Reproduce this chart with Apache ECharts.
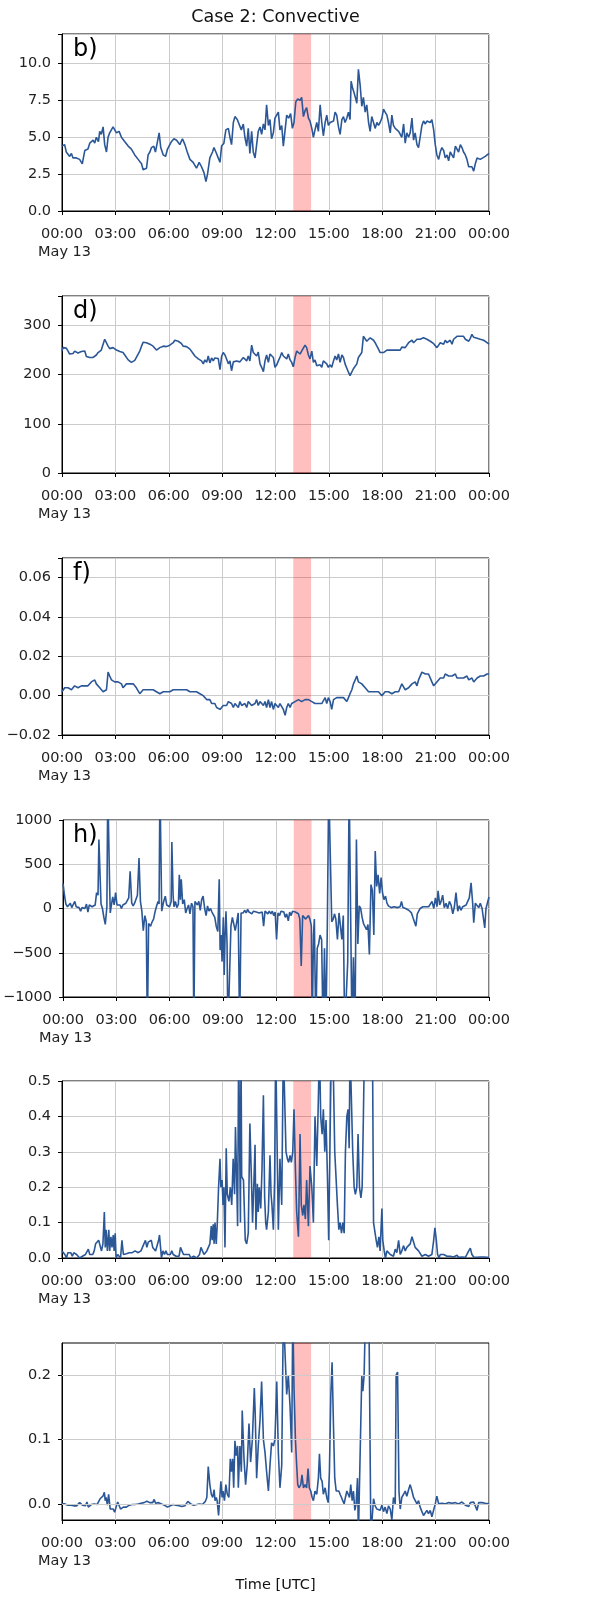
<!DOCTYPE html>
<html>
<head>
<meta charset="utf-8">
<script src="https://cdn.jsdelivr.net/npm/echarts/dist/echarts.min.js"></script>
<style>
html,body{margin:0;padding:0;background:#fff;}
#chart{width:597px;height:1600px;}
</style>
</head>
<body>
<div id="chart"></div>
<script>
// ---- Data: [time in hours UTC on May 13, value] ----
const titleText = 'Case 2: Convective';
const xAxisTitle = 'Time [UTC]';
const dateLabel = 'May 13';
const xTickHours = [0, 3, 6, 9, 12, 15, 18, 21, 24];
const highlightSpan = [13, 14];
const panelLetters = ['b)', 'd)', 'f)', 'h)', '', ''];

const seriesB = [[0,4.4],[0.15,4.5],[0.24,4.0],[0.43,3.7],[0.53,3.9],[0.62,3.6],[0.81,3.6],[0.99,3.5],[1.14,3.2],[1.28,4.1],[1.46,4.2],[1.56,4.6],[1.75,4.8],[1.84,4.6],[1.93,5.0],[2.05,4.7],[2.12,5.4],[2.21,5.2],[2.31,5.7],[2.40,4.5],[2.50,4.0],[2.59,5.0],[2.68,5.3],[2.87,5.7],[2.96,5.8],[3.06,5.3],[3.21,5.4],[3.34,5.0],[3.53,4.7],[3.72,4.4],[3.90,4.2],[4.09,3.8],[4.28,3.5],[4.47,3.2],[4.56,2.8],[4.65,2.8],[4.75,2.9],[4.84,3.8],[4.94,4.0],[5.03,4.3],[5.16,4.4],[5.25,4.0],[5.35,4.6],[5.46,5.3],[5.55,4.3],[5.69,3.8],[5.82,3.7],[5.93,4.2],[6.06,4.5],[6.15,4.7],[6.29,4.9],[6.44,4.8],[6.53,4.9],[6.62,4.5],[6.77,4.9],[6.91,4.5],[7.04,4.0],[7.19,3.5],[7.37,3.3],[7.56,2.9],[7.71,3.3],[7.84,3.0],[7.98,2.6],[8.09,2.0],[8.18,2.5],[8.31,3.6],[8.46,4.0],[8.54,4.3],[8.65,4.0],[8.78,3.6],[8.88,3.3],[8.97,4.4],[9.10,4.6],[9.21,5.5],[9.35,5.6],[9.44,5.0],[9.53,4.5],[9.63,6.0],[9.72,6.4],[9.85,6.2],[9.96,6.1],[10.08,5.5],[10.19,5.9],[10.28,5.0],[10.38,4.4],[10.47,5.6],[10.56,3.9],[10.66,5.4],[10.75,4.0],[10.85,3.6],[10.94,4.5],[11.03,5.4],[11.13,5.7],[11.22,5.2],[11.32,5.9],[11.41,5.5],[11.50,7.2],[11.60,5.8],[11.69,6.2],[11.78,4.9],[11.88,5.3],[11.97,6.3],[12.07,6.4],[12.16,6.7],[12.25,5.5],[12.35,5.8],[12.44,4.4],[12.54,5.5],[12.63,6.5],[12.74,6.3],[12.85,6.6],[12.95,5.6],[13.04,6.0],[13.14,7.4],[13.25,7.6],[13.38,7.5],[13.47,7.7],[13.57,6.4],[13.66,6.8],[13.75,7.0],[13.85,6.3],[13.94,6.1],[14.04,5.6],[14.13,5.0],[14.22,5.5],[14.32,6.0],[14.41,5.4],[14.51,7.2],[14.60,6.0],[14.69,5.1],[14.79,6.0],[14.88,6.5],[14.97,5.8],[15.07,6.0],[15.26,6.1],[15.35,6.7],[15.44,6.5],[15.54,5.7],[15.63,5.2],[15.73,6.2],[15.82,6.4],[15.91,6.0],[16.01,6.3],[16.10,6.7],[16.19,6.2],[16.25,8.8],[16.34,8.3],[16.42,8.0],[16.51,7.6],[16.57,7.3],[16.66,9.6],[16.76,8.5],[16.85,7.1],[16.94,7.7],[17.04,6.7],[17.13,7.2],[17.23,6.0],[17.32,5.4],[17.41,6.4],[17.51,6.0],[17.60,5.6],[17.70,6.0],[17.79,5.8],[17.88,6.0],[17.98,6.3],[18.07,6.9],[18.16,6.7],[18.26,6.5],[18.35,6.0],[18.45,5.3],[18.54,6.5],[18.63,5.8],[18.73,5.6],[18.82,5.6],[18.92,5.4],[19.01,5.3],[19.10,5.0],[19.20,5.9],[19.29,4.6],[19.38,5.3],[19.48,5.0],[19.57,5.3],[19.67,6.3],[19.76,4.8],[19.85,5.3],[19.95,4.5],[20.04,4.3],[20.13,5.0],[20.23,5.8],[20.32,6.1],[20.42,5.9],[20.51,6.1],[20.70,6.0],[20.79,6.2],[20.89,5.5],[20.98,4.5],[21.07,3.8],[21.17,3.5],[21.26,4.0],[21.35,4.3],[21.45,4.1],[21.54,3.6],[21.64,3.8],[21.73,3.4],[21.82,4.0],[21.92,3.9],[22.01,3.6],[22.11,4.4],[22.20,4.5],[22.29,4.0],[22.39,4.5],[22.48,4.3],[22.57,4.0],[22.67,3.8],[22.76,3.5],[22.86,3.0],[22.95,2.9],[23.04,3.0],[23.14,2.7],[23.23,3.2],[23.33,3.6],[23.51,3.5],[23.61,3.6],[23.79,3.7],[24,3.9]];

const seriesD = [[0,248],[0.06,255],[0.15,252],[0.24,254],[0.34,248],[0.43,242],[0.53,245],[0.62,243],[0.71,248],[0.81,250],[0.90,244],[0.99,248],[1.09,247],[1.18,249],[1.28,248],[1.37,237],[1.46,238],[1.56,235],[1.65,236],[1.75,235],[1.84,234],[1.93,240],[2.03,245],[2.12,244],[2.21,250],[2.31,262],[2.40,272],[2.50,268],[2.59,258],[2.68,253],[2.78,256],[2.87,255],[2.96,253],[3.06,250],[3.15,248],[3.25,247],[3.34,246],[3.43,245],[3.53,240],[3.62,238],[3.72,230],[3.81,226],[3.90,225],[4.00,225],[4.09,229],[4.18,235],[4.28,242],[4.37,248],[4.47,258],[4.56,266],[4.65,270],[4.75,265],[4.84,268],[4.94,262],[5.03,260],[5.12,258],[5.22,255],[5.31,250],[5.40,248],[5.50,255],[5.59,258],[5.69,258],[5.78,260],[5.87,257],[5.97,258],[6.06,260],[6.15,261],[6.25,265],[6.34,270],[6.44,272],[6.53,268],[6.62,265],[6.72,263],[6.81,258],[6.91,260],[7.00,257],[7.09,256],[7.19,252],[7.28,248],[7.37,243],[7.47,238],[7.56,236],[7.66,232],[7.75,235],[7.84,228],[7.94,222],[8.03,230],[8.13,225],[8.22,238],[8.31,224],[8.41,234],[8.50,228],[8.59,234],[8.69,230],[8.78,233],[8.88,210],[8.97,237],[9.06,245],[9.16,240],[9.25,232],[9.35,222],[9.44,228],[9.53,208],[9.63,226],[9.72,222],[9.81,228],[9.91,224],[10.00,226],[10.10,230],[10.19,235],[10.28,232],[10.38,228],[10.47,238],[10.56,228],[10.66,260],[10.75,245],[10.85,242],[10.94,238],[11.03,246],[11.13,222],[11.22,215],[11.32,206],[11.41,228],[11.50,240],[11.60,225],[11.69,242],[11.78,240],[11.88,235],[11.97,215],[12.07,220],[12.16,228],[12.25,235],[12.35,245],[12.44,238],[12.54,240],[12.63,232],[12.72,242],[12.82,230],[12.91,225],[13.00,216],[13.10,235],[13.19,248],[13.29,245],[13.38,242],[13.47,248],[13.57,252],[13.66,260],[13.75,255],[13.85,240],[13.94,232],[14.04,248],[14.13,225],[14.22,230],[14.32,218],[14.41,215],[14.51,220],[14.60,215],[14.69,228],[14.79,230],[14.88,222],[14.97,215],[15.07,220],[15.16,215],[15.26,228],[15.35,238],[15.44,230],[15.54,242],[15.63,225],[15.73,240],[15.82,235],[15.91,222],[16.01,218],[16.10,205],[16.19,198],[16.29,200],[16.38,212],[16.48,215],[16.57,222],[16.66,235],[16.76,232],[16.85,245],[16.94,278],[17.04,275],[17.13,268],[17.23,272],[17.32,275],[17.41,272],[17.51,270],[17.60,265],[17.70,258],[17.79,252],[17.88,245],[17.98,242],[18.07,245],[18.16,248],[18.26,250],[18.35,248],[18.45,250],[18.54,248],[18.63,250],[18.73,250],[18.82,250],[18.92,252],[19.01,250],[19.10,256],[19.20,258],[19.29,255],[19.38,258],[19.48,265],[19.57,262],[19.67,270],[19.76,265],[19.85,268],[19.95,272],[20.04,274],[20.13,272],[20.23,273],[20.32,275],[20.42,272],[20.51,272],[20.60,270],[20.70,268],[20.79,265],[20.89,263],[20.98,262],[21.07,255],[21.17,260],[21.26,265],[21.35,268],[21.45,262],[21.54,270],[21.64,265],[21.73,268],[21.82,270],[21.92,262],[22.01,272],[22.11,276],[22.20,278],[22.29,276],[22.39,278],[22.48,280],[22.57,278],[22.67,272],[22.76,270],[22.86,268],[22.95,274],[23.04,282],[23.14,276],[23.23,272],[23.33,274],[23.42,270],[23.51,272],[23.61,268],[23.70,270],[23.79,266],[23.89,265],[24,262]];

const seriesF = [[0,0.002],[0.06,0.003],[0.15,0.004],[0.24,0.003],[0.34,0.004],[0.43,0.004],[0.53,0.003],[0.62,0.004],[0.71,0.005],[0.81,0.005],[0.90,0.004],[0.99,0.005],[1.09,0.005],[1.18,0.004],[1.28,0.005],[1.37,0.005],[1.46,0.005],[1.56,0.006],[1.65,0.007],[1.75,0.008],[1.84,0.008],[1.93,0.006],[2.03,0.005],[2.12,0.004],[2.21,0.003],[2.31,0.002],[2.40,0.001],[2.50,0.003],[2.59,0.012],[2.68,0.010],[2.78,0.008],[2.87,0.009],[2.96,0.007],[3.06,0.008],[3.15,0.007],[3.25,0.006],[3.34,0.006],[3.43,0.004],[3.53,0.005],[3.62,0.006],[3.72,0.005],[3.81,0.006],[3.90,0.006],[4.00,0.006],[4.09,0.005],[4.18,0.004],[4.28,0.003],[4.37,0.001],[4.47,0.002],[4.56,0.003],[4.65,0.003],[4.75,0.003],[4.84,0.003],[4.94,0.003],[5.03,0.003],[5.12,0.003],[5.22,0.003],[5.31,0.002],[5.40,0.002],[5.50,0.001],[5.59,0.002],[5.69,0.002],[5.78,0.002],[5.87,0.002],[5.97,0.003],[6.06,0.002],[6.15,0.002],[6.25,0.003],[6.34,0.003],[6.44,0.003],[6.53,0.003],[6.62,0.003],[6.72,0.003],[6.81,0.003],[6.91,0.003],[7.00,0.003],[7.09,0.002],[7.19,0.002],[7.28,0.002],[7.37,0.002],[7.47,0.002],[7.56,0.002],[7.66,0.002],[7.75,0.001],[7.84,0.002],[7.94,0.000],[8.03,-0.001],[8.13,-0.002],[8.22,-0.003],[8.31,-0.002],[8.41,-0.004],[8.50,-0.005],[8.59,-0.004],[8.69,-0.006],[8.78,-0.005],[8.88,-0.007],[8.97,-0.006],[9.06,-0.005],[9.16,-0.004],[9.25,-0.005],[9.35,-0.003],[9.44,-0.004],[9.53,-0.004],[9.63,-0.006],[9.72,-0.004],[9.81,-0.005],[9.91,-0.006],[10.00,-0.003],[10.10,-0.005],[10.19,-0.004],[10.28,-0.004],[10.38,-0.006],[10.47,-0.003],[10.56,-0.004],[10.66,-0.005],[10.75,-0.005],[10.85,-0.004],[10.94,-0.002],[11.03,-0.005],[11.13,-0.003],[11.22,-0.004],[11.32,-0.005],[11.41,-0.003],[11.50,-0.006],[11.60,-0.002],[11.69,-0.006],[11.78,-0.003],[11.88,-0.007],[11.97,-0.004],[12.07,-0.003],[12.16,-0.006],[12.25,-0.004],[12.35,-0.005],[12.44,-0.007],[12.54,-0.010],[12.63,-0.006],[12.72,-0.004],[12.82,-0.006],[12.91,-0.004],[13.00,-0.005],[13.10,-0.003],[13.19,-0.003],[13.29,-0.002],[13.38,-0.001],[13.47,-0.003],[13.57,-0.003],[13.66,-0.002],[13.75,-0.003],[13.85,-0.002],[13.94,-0.001],[14.04,-0.003],[14.13,-0.003],[14.22,-0.004],[14.32,-0.003],[14.41,-0.004],[14.51,-0.005],[14.60,-0.004],[14.69,-0.003],[14.79,-0.001],[14.88,-0.004],[14.97,-0.001],[15.07,-0.003],[15.16,-0.007],[15.26,-0.002],[15.35,-0.001],[15.44,-0.001],[15.54,-0.002],[15.63,-0.001],[15.73,0.000],[15.82,-0.001],[15.91,-0.001],[16.01,-0.003],[16.10,-0.001],[16.19,0.001],[16.29,0.003],[16.38,0.006],[16.48,0.008],[16.57,0.010],[16.66,0.007],[16.76,0.007],[16.85,0.006],[16.94,0.006],[17.04,0.004],[17.13,0.003],[17.23,0.002],[17.32,0.002],[17.41,0.002],[17.51,0.002],[17.60,0.002],[17.70,0.003],[17.79,0.002],[17.88,0.001],[17.98,0.000],[18.07,0.001],[18.16,0.002],[18.26,0.001],[18.35,0.002],[18.45,0.001],[18.54,0.001],[18.63,0.001],[18.73,0.002],[18.82,0.003],[18.92,0.002],[19.01,0.004],[19.10,0.006],[19.20,0.005],[19.29,0.003],[19.38,0.003],[19.48,0.004],[19.57,0.003],[19.67,0.006],[19.76,0.005],[19.85,0.007],[19.95,0.005],[20.04,0.008],[20.13,0.007],[20.23,0.012],[20.32,0.012],[20.42,0.011],[20.51,0.012],[20.60,0.011],[20.70,0.011],[20.79,0.007],[20.89,0.005],[20.98,0.006],[21.07,0.007],[21.17,0.008],[21.26,0.009],[21.35,0.010],[21.45,0.009],[21.54,0.011],[21.64,0.010],[21.73,0.010],[21.82,0.011],[21.92,0.010],[22.01,0.010],[22.11,0.011],[22.20,0.009],[22.29,0.010],[22.39,0.009],[22.48,0.010],[22.57,0.009],[22.67,0.009],[22.76,0.010],[22.86,0.008],[22.95,0.009],[23.04,0.009],[23.14,0.007],[23.23,0.008],[23.33,0.009],[23.42,0.009],[23.51,0.010],[23.61,0.010],[23.70,0.010],[23.79,0.011],[23.89,0.011],[24,0.011]];

const seriesH = [[0,280],[0.08,150],[0.16,50],[0.25,20],[0.33,20],[0.41,60],[0.49,10],[0.58,30],[0.66,80],[0.74,20],[0.82,40],[0.9,10],[0.99,-30],[1.07,10],[1.15,20],[1.23,0],[1.32,50],[1.4,-40],[1.48,40],[1.56,30],[1.64,20],[1.73,40],[1.81,40],[1.89,180],[1.97,150],[2.02,780],[2.09,350],[2.14,50],[2.22,0],[2.3,-100],[2.38,-180],[2.47,20],[2.52,1400],[2.57,1400],[2.62,300],[2.66,-50],[2.71,20],[2.8,130],[2.88,40],[2.96,180],[3.04,40],[3.13,20],[3.21,40],[3.29,0],[3.37,40],[3.45,20],[3.54,60],[3.62,40],[3.7,120],[3.78,420],[3.87,60],[3.95,30],[4.03,60],[4.11,60],[4.19,150],[4.28,570],[4.36,80],[4.44,-30],[4.52,-250],[4.61,-80],[4.69,-150],[4.75,-1400],[4.82,-170],[4.93,-200],[5.02,-150],[5.1,-120],[5.18,-40],[5.26,20],[5.35,80],[5.41,50],[5.46,1400],[5.51,1400],[5.56,-30],[5.67,80],[5.76,140],[5.84,40],[5.92,20],[6.0,20],[6.09,80],[6.13,750],[6.2,150],[6.25,20],[6.33,80],[6.41,10],[6.5,50],[6.55,380],[6.61,100],[6.66,330],[6.74,50],[6.83,100],[6.91,-50],[6.99,0],[7.07,40],[7.15,-60],[7.24,60],[7.32,20],[7.37,-1400],[7.43,80],[7.48,60],[7.57,40],[7.65,80],[7.73,-20],[7.81,100],[7.89,140],[7.98,0],[8.06,-80],[8.14,30],[8.22,-30],[8.31,0],[8.39,-40],[8.47,-60],[8.55,-100],[8.63,-200],[8.72,-260],[8.8,330],[8.85,-470],[8.91,-300],[8.96,-600],[9.03,-100],[9.08,-750],[9.13,-300],[9.18,-30],[9.24,-400],[9.29,-1400],[9.38,-1400],[9.46,-200],[9.54,-100],[9.62,-80],[9.7,-250],[9.79,-150],[9.87,-50],[9.95,-1400],[10.03,-50],[10.15,-50],[10.24,-20],[10.32,-50],[10.4,-10],[10.48,-40],[10.56,-30],[10.64,-60],[10.73,-30],[10.81,-50],[10.89,-40],[10.97,-30],[11.05,-50],[11.13,-30],[11.22,-40],[11.3,-200],[11.38,-30],[11.46,-20],[11.54,-60],[11.62,-30],[11.71,-60],[11.79,-30],[11.87,-80],[11.95,-40],[12.03,-350],[12.11,-50],[12.2,-80],[12.28,-30],[12.36,-50],[12.44,-40],[12.52,-100],[12.6,-60],[12.69,-140],[12.77,-40],[12.85,-80],[12.93,-30],[13.01,-40],[13.09,-40],[13.18,-30],[13.26,-60],[13.34,-120],[13.42,-650],[13.5,-80],[13.58,-60],[13.67,-120],[13.75,-100],[13.83,-80],[13.91,-120],[13.99,-200],[14.04,-1400],[14.11,-300],[14.16,-120],[14.24,-1400],[14.32,-450],[14.4,-400],[14.48,-300],[14.57,-350],[14.65,-1400],[14.73,-450],[14.81,-1400],[14.89,-200],[14.97,1400],[15.06,1400],[15.14,-150],[15.22,-120],[15.3,-60],[15.37,-120],[15.46,-350],[15.55,-50],[15.63,-70],[15.71,-350],[15.79,-80],[15.87,-1400],[15.95,-1400],[16.04,-600],[16.12,1400],[16.2,1400],[16.28,-1400],[16.36,-550],[16.45,-1400],[16.53,780],[16.61,-400],[16.69,30],[16.77,0],[16.85,-100],[16.93,-170],[17.02,-150],[17.1,-240],[17.18,-180],[17.26,-520],[17.35,270],[17.43,200],[17.51,-300],[17.59,650],[17.67,250],[17.75,380],[17.84,170],[17.92,350],[18.0,180],[18.08,100],[18.17,140],[18.25,60],[18.33,30],[18.41,40],[18.49,10],[18.58,5],[18.66,20],[18.74,0],[18.82,10],[18.91,20],[18.99,20],[19.07,80],[19.15,10],[19.23,0],[19.3,0],[19.39,-10],[19.48,-20],[19.55,-10],[19.63,-50],[19.71,-100],[19.8,-120],[19.88,-200],[19.96,-60],[20.04,-30],[20.12,0],[20.2,20],[20.28,20],[20.45,20],[20.6,20],[20.7,20],[20.79,80],[20.89,0],[20.98,120],[21.07,20],[21.13,200],[21.22,40],[21.3,80],[21.39,150],[21.48,10],[21.58,60],[21.67,0],[21.77,80],[21.86,40],[21.96,-60],[22.05,20],[22.14,180],[22.24,-30],[22.33,30],[22.42,-20],[22.52,20],[22.61,20],[22.71,40],[22.8,80],[22.89,120],[22.99,290],[23.08,60],[23.14,-160],[23.23,60],[23.33,60],[23.42,10],[23.51,60],[23.61,0],[23.7,10],[23.76,-220],[23.83,0],[23.92,-20],[24,130]];

const seriesI = [[0,0.02],[0.08,0.025],[0.16,0.01],[0.25,0.0],[0.33,0.015],[0.41,0.01],[0.49,0.015],[0.58,0.005],[0.66,0.015],[0.74,0.015],[0.82,0.01],[0.9,0.005],[0.99,0.0],[1.07,0.0],[1.15,0.005],[1.23,0.01],[1.32,0.01],[1.4,0.015],[1.48,0.025],[1.56,0.01],[1.64,0.005],[1.73,0.01],[1.81,0.02],[1.89,0.04],[1.97,0.045],[2.06,0.05],[2.14,0.055],[2.22,0.02],[2.3,0.04],[2.38,0.13],[2.43,0.03],[2.48,0.08],[2.55,0.02],[2.63,0.08],[2.68,0.02],[2.75,0.06],[2.81,0.03],[2.88,0.065],[2.93,0.02],[2.99,0.07],[3.04,0.0],[3.13,0.01],[3.21,0.005],[3.29,0.0],[3.37,0.05],[3.45,0.01],[3.54,0.01],[3.62,0.012],[3.7,0.012],[3.78,0.015],[3.87,0.015],[3.95,0.015],[4.03,0.02],[4.11,0.02],[4.19,0.015],[4.28,0.015],[4.36,0.012],[4.44,0.02],[4.52,0.03],[4.61,0.025],[4.69,0.05],[4.77,0.03],[4.85,0.045],[4.93,0.04],[5.02,0.05],[5.1,0.03],[5.18,0.025],[5.26,0.02],[5.35,0.02],[5.43,0.05],[5.48,0.065],[5.54,0.03],[5.59,0.0],[5.67,0.02],[5.76,0.01],[5.84,0.02],[5.92,0.01],[6.0,0.015],[6.09,0.01],[6.17,0.02],[6.25,0.01],[6.33,0.015],[6.41,0.005],[6.5,0.01],[6.58,0.005],[6.66,0.03],[6.74,0.02],[6.83,0.01],[6.91,0.015],[6.99,0.01],[7.07,0.005],[7.15,0.01],[7.24,0.0],[7.32,0.005],[7.4,0.005],[7.48,0.005],[7.57,0.0],[7.65,0.0],[7.73,0.01],[7.81,0.03],[7.89,0.025],[7.98,0.01],[8.06,0.015],[8.14,0.02],[8.22,0.015],[8.31,0.04],[8.39,0.09],[8.44,0.05],[8.5,0.095],[8.55,0.04],[8.6,0.1],[8.67,0.04],[8.73,0.1],[8.8,0.2],[8.88,0.28],[8.93,0.2],[9.0,0.22],[9.05,0.15],[9.1,0.2],[9.16,0.03],[9.23,0.31],[9.29,0.18],[9.38,0.16],[9.46,0.2],[9.54,0.15],[9.62,0.28],[9.7,0.18],[9.75,0.37],[9.82,0.22],[9.87,0.09],[9.93,0.6],[9.98,0.6],[10.03,0.1],[10.06,0.6],[10.1,0.23],[10.2,0.22],[10.3,0.05],[10.38,0.04],[10.47,0.07],[10.56,0.38],[10.66,0.2],[10.71,0.1],[10.79,0.22],[10.85,0.32],[10.9,0.08],[10.98,0.21],[11.03,0.13],[11.09,0.2],[11.17,0.14],[11.24,0.25],[11.32,0.46],[11.39,0.17],[11.45,0.1],[11.5,0.08],[11.6,0.13],[11.69,0.29],[11.75,0.18],[11.8,0.15],[11.88,0.08],[11.95,0.22],[12.01,0.6],[12.08,0.6],[12.16,0.08],[12.25,0.28],[12.35,0.15],[12.44,0.6],[12.52,0.6],[12.59,0.3],[12.67,0.28],[12.74,0.27],[12.82,0.29],[12.89,0.27],[12.97,0.3],[13.04,0.42],[13.12,0.25],[13.19,0.13],[13.29,0.06],[13.38,0.35],[13.45,0.15],[13.53,0.12],[13.6,0.15],[13.68,0.11],[13.75,0.22],[13.85,0.09],[13.94,0.26],[14.04,0.2],[14.13,0.1],[14.22,0.4],[14.32,0.26],[14.41,0.45],[14.47,0.6],[14.54,0.4],[14.62,0.35],[14.69,0.42],[14.77,0.3],[14.84,0.39],[14.92,0.23],[14.99,0.05],[15.07,0.35],[15.14,0.6],[15.26,0.5],[15.33,0.3],[15.41,0.22],[15.48,0.15],[15.56,0.08],[15.63,0.1],[15.71,0.07],[15.78,0.1],[15.86,0.07],[15.93,0.3],[16.01,0.4],[16.08,0.42],[16.14,0.31],[16.19,0.6],[16.29,0.6],[16.34,0.3],[16.42,0.2],[16.49,0.18],[16.57,0.2],[16.64,0.35],[16.72,0.2],[16.8,0.17],[16.87,0.2],[16.94,0.4],[17.0,0.6],[17.13,0.6],[17.23,0.6],[17.32,0.6],[17.45,0.6],[17.51,0.1],[17.58,0.1],[17.66,0.05],[17.73,0.03],[17.81,0.06],[17.88,0.02],[17.98,0.14],[18.03,0.05],[18.11,0.02],[18.18,0.0],[18.26,0.02],[18.35,0.025],[18.45,0.01],[18.54,0.015],[18.63,0.005],[18.73,0.025],[18.82,0.015],[18.92,0.05],[19.01,0.01],[19.1,0.02],[19.2,0.035],[19.29,0.02],[19.38,0.03],[19.48,0.025],[19.57,0.04],[19.67,0.06],[19.76,0.045],[19.85,0.03],[19.95,0.025],[20.04,0.02],[20.13,0.015],[20.23,0.005],[20.32,0.0],[20.42,0.01],[20.51,0.015],[20.6,0.005],[20.7,0.0],[20.79,0.01],[20.89,0.05],[20.96,0.085],[21.04,0.05],[21.11,0.01],[21.19,0.0],[21.26,0.01],[21.35,0.005],[21.45,0.01],[21.54,0.01],[21.64,0.005],[21.73,0.002],[21.82,0.005],[21.92,0.008],[22.01,0.003],[22.11,0.005],[22.2,0.008],[22.29,0.002],[22.39,0.005],[22.48,0.003],[22.57,0.005],[22.67,0.002],[22.76,0.01],[22.86,0.02],[22.95,0.028],[23.04,0.01],[23.14,0.003],[23.23,0.005],[23.33,0.002],[23.42,0.004],[23.51,0.003],[23.61,0.002],[23.7,0.003],[23.79,0.001],[23.89,0.002],[24,0.001]];

const seriesJ = [[0,0.0],[0.08,-0.002],[0.16,0.0],[0.25,-0.003],[0.33,-0.002],[0.41,-0.005],[0.49,-0.002],[0.58,0.0],[0.66,-0.003],[0.74,-0.001],[0.82,-0.003],[0.9,0.0],[0.99,0.002],[1.07,-0.001],[1.15,-0.002],[1.23,0.0],[1.32,-0.003],[1.4,0.003],[1.48,-0.005],[1.56,-0.002],[1.64,-0.001],[1.73,-0.002],[1.81,0.0],[1.89,-0.002],[1.97,-0.001],[2.06,-0.003],[2.14,0.008],[2.22,0.005],[2.3,0.012],[2.38,0.018],[2.43,0.005],[2.48,0.01],[2.55,-0.002],[2.62,0.015],[2.66,0.016],[2.71,-0.008],[2.8,-0.01],[2.88,-0.008],[2.96,-0.013],[3.04,-0.005],[3.13,0.003],[3.21,0.0],[3.29,-0.008],[3.37,-0.01],[3.45,-0.005],[3.54,-0.003],[3.62,-0.005],[3.7,-0.002],[3.78,-0.002],[3.87,0.0],[3.95,-0.001],[4.03,-0.002],[4.11,-0.001],[4.19,0.0],[4.28,0.0],[4.36,0.002],[4.44,0.001],[4.52,0.003],[4.61,0.002],[4.69,0.002],[4.77,0.004],[4.85,0.003],[4.93,0.002],[5.02,0.003],[5.1,0.002],[5.18,0.007],[5.26,0.001],[5.35,0.004],[5.43,0.002],[5.51,0.005],[5.59,0.0],[5.67,0.002],[5.76,-0.002],[5.84,-0.003],[5.92,-0.005],[6.0,-0.008],[6.09,-0.003],[6.17,-0.002],[6.25,-0.001],[6.33,-0.004],[6.41,-0.002],[6.5,0.001],[6.58,-0.003],[6.66,-0.002],[6.74,-0.004],[6.83,-0.001],[6.91,-0.003],[6.99,-0.005],[7.07,0.004],[7.15,0.001],[7.24,0.0],[7.32,0.0],[7.4,-0.002],[7.48,0.001],[7.57,-0.001],[7.65,0.0],[7.73,0.0],[7.81,0.001],[7.89,-0.001],[7.98,0.002],[8.06,0.004],[8.14,0.01],[8.22,0.058],[8.31,0.03],[8.39,0.015],[8.47,0.01],[8.55,0.022],[8.6,0.005],[8.67,0.01],[8.72,0.005],[8.8,-0.018],[8.88,0.015],[8.93,0.035],[9.0,0.01],[9.05,0.02],[9.13,0.005],[9.21,0.03],[9.29,0.015],[9.38,0.01],[9.46,0.07],[9.52,0.05],[9.59,0.07],[9.65,0.025],[9.72,0.098],[9.79,0.075],[9.87,0.09],[9.91,0.025],[10.0,0.09],[10.08,0.05],[10.13,0.145],[10.23,0.07],[10.32,0.03],[10.41,0.06],[10.51,0.125],[10.6,0.065],[10.7,0.1],[10.81,0.18],[10.86,0.14],[10.94,0.04],[11.03,0.09],[11.13,0.13],[11.22,0.19],[11.32,0.1],[11.41,0.08],[11.5,0.05],[11.6,0.02],[11.69,0.06],[11.78,0.095],[11.88,0.09],[11.97,0.1],[12.07,0.19],[12.16,0.08],[12.25,0.025],[12.35,0.06],[12.44,0.3],[12.54,0.3],[12.63,0.17],[12.72,0.2],[12.82,0.15],[12.91,0.08],[12.97,0.3],[13.04,0.18],[13.12,0.1],[13.19,0.06],[13.25,0.03],[13.32,0.025],[13.42,0.03],[13.49,0.045],[13.57,0.025],[13.66,0.03],[13.75,0.025],[13.83,0.055],[13.9,0.025],[13.98,0.02],[14.06,0.01],[14.13,0.005],[14.22,0.02],[14.32,0.015],[14.41,0.04],[14.47,0.078],[14.54,0.04],[14.62,0.035],[14.69,0.015],[14.79,0.025],[14.88,0.01],[14.96,0.002],[15.03,0.05],[15.11,0.17],[15.18,0.22],[15.26,0.12],[15.33,0.04],[15.41,0.02],[15.48,0.02],[15.56,0.02],[15.63,0.015],[15.71,0.01],[15.78,0.005],[15.86,0.0],[15.93,0.01],[16.01,0.02],[16.08,0.02],[16.16,0.01],[16.23,0.03],[16.31,0.005],[16.38,0.02],[16.46,-0.01],[16.53,0.0],[16.61,0.04],[16.66,-0.05],[16.76,-0.05],[16.85,0.2],[16.91,0.175],[16.98,0.2],[17.06,0.3],[17.13,0.3],[17.25,0.3],[17.36,-0.05],[17.45,-0.05],[17.51,0.008],[17.6,-0.003],[17.7,-0.008],[17.79,-0.005],[17.88,-0.01],[17.98,-0.002],[18.07,-0.012],[18.16,-0.005],[18.26,-0.015],[18.35,-0.003],[18.45,-0.008],[18.54,-0.025],[18.63,0.01],[18.73,0.0],[18.78,0.2],[18.86,0.205],[18.94,0.02],[19.01,-0.008],[19.1,0.01],[19.2,0.015],[19.29,0.02],[19.38,0.012],[19.48,0.022],[19.57,0.03],[19.67,0.02],[19.76,0.01],[19.85,0.012],[19.95,0.0],[20.04,0.005],[20.13,-0.005],[20.23,-0.012],[20.32,-0.018],[20.42,-0.02],[20.51,-0.01],[20.6,-0.015],[20.7,-0.01],[20.79,-0.02],[20.89,-0.022],[20.98,0.0],[21.07,0.012],[21.17,0.0],[21.26,0.0],[21.35,0.001],[21.45,-0.001],[21.54,0.0],[21.64,0.001],[21.73,0.002],[21.82,0.0],[21.92,0.001],[22.01,0.0],[22.11,0.002],[22.2,-0.001],[22.29,0.0],[22.39,0.002],[22.48,0.003],[22.57,0.001],[22.67,-0.002],[22.76,0.0],[22.86,-0.004],[22.95,0.002],[23.04,0.0],[23.14,0.003],[23.23,-0.003],[23.33,-0.01],[23.42,0.002],[23.51,0.005],[23.61,0.002],[23.7,0.001],[23.79,0.001],[23.89,0.0],[24,0.0]];

// y-axis ranges and tick values per panel
const yMins = [0, 0, -0.02, -1000, 0, -0.025];
const yMaxs = [12, 360, 0.07, 1000, 0.5, 0.25];
const yTickValues = [
  [0, 2.5, 5, 7.5, 10],
  [0, 100, 200, 300],
  [-0.02, 0, 0.02, 0.04, 0.06],
  [-1000, -500, 0, 500, 1000],
  [0, 0.1, 0.2, 0.3, 0.4, 0.5],
  [0, 0.1, 0.2]
];
const yDecimals = [1, 0, 2, 0, 1, 1];
const allSeries = [seriesB, seriesD, seriesF, seriesH, seriesI, seriesJ];

// ---- Build chart ----
const FONT = 'DejaVu Sans';
const LINE_COLOR = '#2b5797';
const GRID_COLOR = '#cbcbcb';
const TEXT_COLOR = '#222';
const tops = [34, 296, 558, 820, 1081, 1343];
const plotLeft = 62, plotWidth = 427, plotHeight = 177;

function pad2(n){ return (n < 10 ? '0' : '') + n; }
function isTick(v, ticks){ return ticks.some(t => Math.abs(t - v) < 1e-9 * Math.max(1, Math.abs(t)) || Math.abs(t - v) < 1e-9); }

const grids = [], xAxes = [], yAxes = [], series = [], graphics = [];
allSeries.forEach((data, i) => {
  const ticks = yTickValues[i], dec = yDecimals[i];
  const regular = ticks.length > 1 ? (ticks[1] - ticks[0]) : 1;
  const minIsMultiple = Math.abs(yMins[i] / regular - Math.round(yMins[i] / regular)) < 1e-6;
  const step = minIsMultiple ? regular : 0.025;

  grids.push({left: plotLeft, top: tops[i], width: plotWidth, height: plotHeight,
    show: true, borderColor: '#000', borderWidth: 1, backgroundColor: 'transparent'});
  xAxes.push({
    gridIndex: i, type: 'value', min: xTickHours[0], max: xTickHours[xTickHours.length-1], interval: 3,
    axisLine: {show: true, onZero: false, lineStyle: {color: '#000', width: 1}},
    axisTick: {show: true, length: 4, lineStyle: {color: '#000', width: 1}},
    splitLine: {show: true, lineStyle: {color: GRID_COLOR, width: 1}},
    axisLabel: {
      color: TEXT_COLOR, fontSize: 14.5, fontFamily: FONT, margin: 14, lineHeight: 18,
      rich: {d: {color: TEXT_COLOR, fontSize: 14.5, fontFamily: FONT, lineHeight: 18, padding: [0, 0, 0, 5]}},
      formatter: v => {
        const s = pad2(Math.round(v) % 24) + ':00';
        return Math.round(v) === 0 ? s + '\n{d|' + dateLabel + '}' : s;
      }
    }
  });
  const yAxis = {
    gridIndex: i, type: 'value', min: yMins[i], max: yMaxs[i], interval: step,
    axisLine: {show: true, onZero: false, lineStyle: {color: '#000', width: 1}},
    axisTick: {show: true, length: 4, lineStyle: {color: '#000', width: 1}},
    splitLine: {show: minIsMultiple, lineStyle: {color: GRID_COLOR, width: 1}},
    axisLabel: {
      color: TEXT_COLOR, fontSize: 14.5, fontFamily: FONT, margin: 11,
      formatter: v => {
        if (!isTick(v, ticks)) return '';
        const s = Math.abs(v).toFixed(dec);
        return (v < -1e-12 ? '\u2212' : '') + s;
      }
    }
  };
  if (!minIsMultiple) {
    yAxis.axisTick.customValues = ticks;
  }
  yAxes.push(yAxis);

  if (!minIsMultiple) {
    series.push({
      type: 'line', xAxisIndex: i, yAxisIndex: i, data: data, z: 1,
      showSymbol: false, silent: true, animation: false,
      lineStyle: {opacity: 0}, itemStyle: {opacity: 0},
      markLine: {silent: true, symbol: 'none', animation: false,
        label: {show: false}, lineStyle: {color: GRID_COLOR, width: 1, type: 'solid'},
        emphasis: {disabled: true},
        data: ticks.map(t => ({yAxis: t}))}
    });
  }
  series.push({
    type: 'line', xAxisIndex: i, yAxisIndex: i, data: data, z: 3,
    showSymbol: false, clip: true, animation: false,
    lineStyle: {color: LINE_COLOR, width: 1.6}, itemStyle: {color: LINE_COLOR},
    markArea: {silent: true, itemStyle: {color: 'rgba(255,0,0,0.25)'},
      data: [[{xAxis: highlightSpan[0]}, {xAxis: highlightSpan[1]}]]}
  });
  if (panelLetters[i]) {
    graphics.push({type: 'text', left: plotLeft + 11, top: tops[i] + 4, z: 100,
      style: {text: panelLetters[i], font: '24px "DejaVu Sans"', fill: '#000'}});
  }
});

graphics.push({type: 'text', x: 275.5, y: 17, z: 100,
  style: {text: titleText, font: '17.5px "DejaVu Sans"', fill: '#111', textAlign: 'center', textVerticalAlign: 'middle'}});
graphics.push({type: 'text', x: 275.5, y: 1585, z: 100,
  style: {text: xAxisTitle, font: '14.5px "DejaVu Sans"', fill: '#111', textAlign: 'center', textVerticalAlign: 'middle'}});

const chart = echarts.init(document.getElementById('chart'), null, {renderer: 'canvas'});
chart.setOption({
  animation: false,
  backgroundColor: '#fff',
  grid: grids, xAxis: xAxes, yAxis: yAxes, series: series, graphic: graphics
});
</script>
</body>
</html>
